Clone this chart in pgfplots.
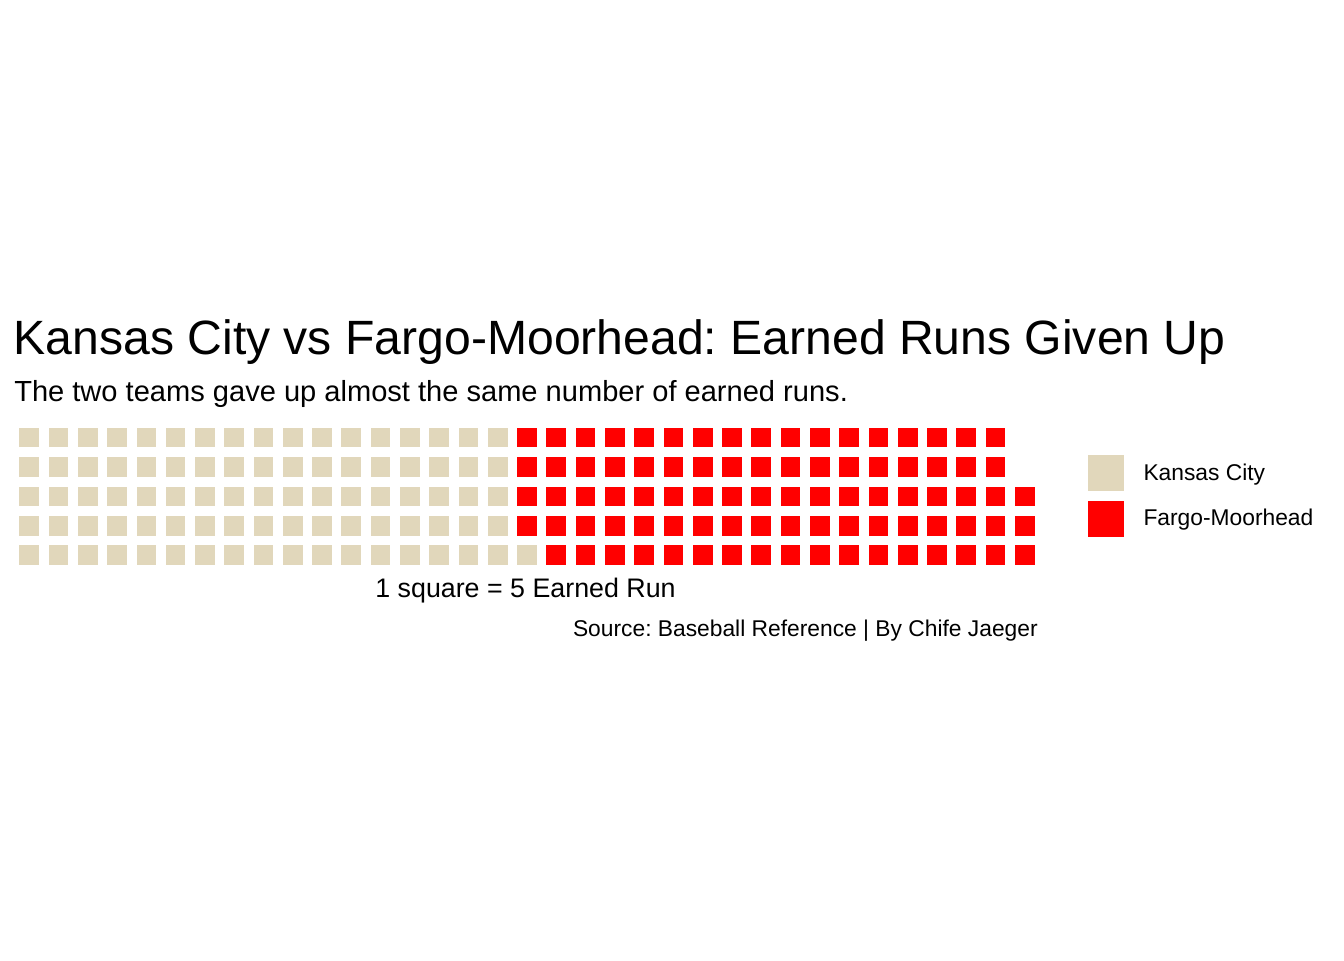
\documentclass[border=0pt]{standalone}
\usepackage{pgfplots}
\pgfplotsset{compat=1.18}
\usepackage{fontspec}
\setmainfont{Liberation Sans}
\frenchspacing
\definecolor{kcbeige}{RGB}{225,215,187}
\definecolor{fmred}{RGB}{255,0,0}
\begin{document}
\begin{tikzpicture}[x=0.75pt,y=0.75pt]
\path[use as bounding box] (0,0) rectangle (1344,960);
\node[anchor=base west,inner sep=0pt,font=\fontsize{36.1}{40}\selectfont] at (13.5,605) {Kansas City vs Fargo-Moorhead: Earned Runs Given Up};
\node[anchor=base west,inner sep=0pt,font=\fontsize{21.8}{25}\selectfont] at (14,558) {The two teams gave up almost the same number of earned runs.};
\node[anchor=base,inner sep=0pt,font=\fontsize{20.1}{24}\selectfont] at (525.5,362) {1 square = 5 Earned Run};
\node[anchor=base east,inner sep=0pt,font=\fontsize{17.1}{20}\selectfont] at (1038,323) {Source: Baseball Reference | By Chife Jaeger};
\begin{axis}[
  at={(0,0)}, anchor=south west,
  scale only axis, width=1008pt, height=720pt,
  xmin=0.00956, xmax=45.911, ymin=-12.776, ymax=19.878,
  hide axis, clip=false,
  legend style={at={(0.8095,0.526)}, anchor=north west, draw=none, fill=none,
    inner sep=0pt, outer sep=0pt, row sep=7.5pt, column sep=15pt,
    font=\fontsize{17.1}{20}\selectfont, nodes={inner sep=0pt, anchor=west}},
  legend cell align=left,
]
\addplot[only marks, mark=square*, mark size=7pt, color=kcbeige,
  mark options={draw=none, fill=kcbeige},
  legend image code/.code={\fill[kcbeige] (0pt,-13.125pt) rectangle (26.25pt,13.125pt);}]
coordinates {
(1,1)(1,2)(1,3)(1,4)(1,5)
(2,1)(2,2)(2,3)(2,4)(2,5)
(3,1)(3,2)(3,3)(3,4)(3,5)
(4,1)(4,2)(4,3)(4,4)(4,5)
(5,1)(5,2)(5,3)(5,4)(5,5)
(6,1)(6,2)(6,3)(6,4)(6,5)
(7,1)(7,2)(7,3)(7,4)(7,5)
(8,1)(8,2)(8,3)(8,4)(8,5)
(9,1)(9,2)(9,3)(9,4)(9,5)
(10,1)(10,2)(10,3)(10,4)(10,5)
(11,1)(11,2)(11,3)(11,4)(11,5)
(12,1)(12,2)(12,3)(12,4)(12,5)
(13,1)(13,2)(13,3)(13,4)(13,5)
(14,1)(14,2)(14,3)(14,4)(14,5)
(15,1)(15,2)(15,3)(15,4)(15,5)
(16,1)(16,2)(16,3)(16,4)(16,5)
(17,1)(17,2)(17,3)(17,4)(17,5)
(18,1)
};
\addlegendentry{Kansas City}
\addplot[only marks, mark=square*, mark size=7pt, color=fmred,
  mark options={draw=none, fill=fmred},
  legend image code/.code={\fill[fmred] (0pt,-13.125pt) rectangle (26.25pt,13.125pt);}]
coordinates {
(18,2)(18,3)(18,4)(18,5)
(19,1)(19,2)(19,3)(19,4)(19,5)
(20,1)(20,2)(20,3)(20,4)(20,5)
(21,1)(21,2)(21,3)(21,4)(21,5)
(22,1)(22,2)(22,3)(22,4)(22,5)
(23,1)(23,2)(23,3)(23,4)(23,5)
(24,1)(24,2)(24,3)(24,4)(24,5)
(25,1)(25,2)(25,3)(25,4)(25,5)
(26,1)(26,2)(26,3)(26,4)(26,5)
(27,1)(27,2)(27,3)(27,4)(27,5)
(28,1)(28,2)(28,3)(28,4)(28,5)
(29,1)(29,2)(29,3)(29,4)(29,5)
(30,1)(30,2)(30,3)(30,4)(30,5)
(31,1)(31,2)(31,3)(31,4)(31,5)
(32,1)(32,2)(32,3)(32,4)(32,5)
(33,1)(33,2)(33,3)(33,4)(33,5)
(34,1)(34,2)(34,3)(34,4)(34,5)
(35,1)(35,2)(35,3)
};
\addlegendentry{Fargo-Moorhead}
\end{axis}
\end{tikzpicture}
\end{document}
